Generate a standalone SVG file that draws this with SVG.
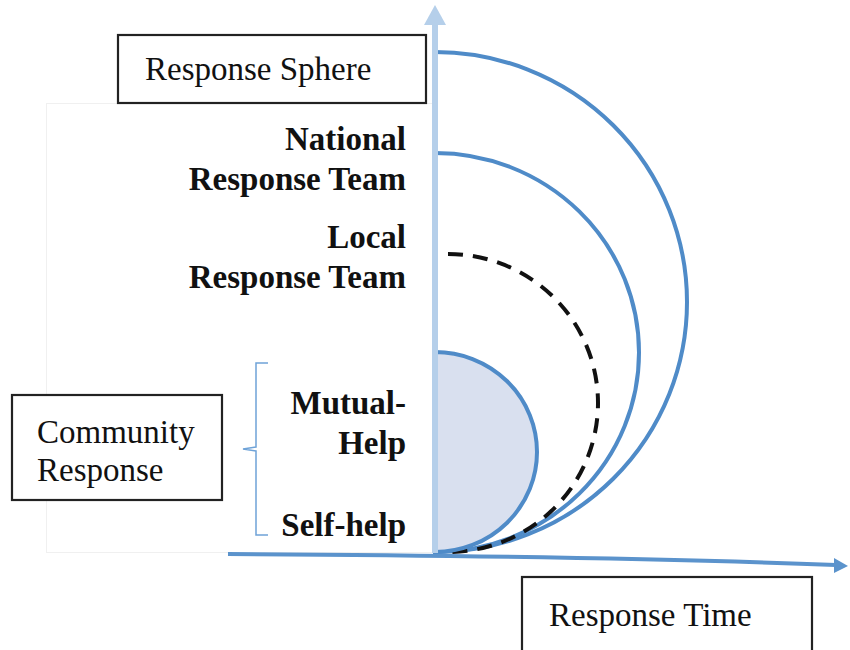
<svg xmlns="http://www.w3.org/2000/svg" width="850" height="650" viewBox="0 0 850 650">
  <style>
    .box { fill: #ffffff; stroke: #222222; stroke-width: 2.2; }
    .lbl { font-family: "Liberation Serif", "Times New Roman", serif; font-size: 33px; fill: #111111; }
    .tier { font-family: "Liberation Serif", "Times New Roman", serif; font-size: 33px; font-weight: bold; fill: #111111; text-anchor: end; }
    .ring { fill: none; stroke: #4f8bc8; stroke-width: 4; }
  </style>
  <rect width="850" height="650" fill="#ffffff"/>

  <!-- faint backing panel -->
  <rect x="46.5" y="103.5" width="390" height="449" fill="#ffffff" stroke="#f0f0f0" stroke-width="1"/>

  <g id="connectors">
    <!-- response sphere rings -->
    <path class="ring" d="M435,52 A252,250 0 0 1 435,552"/>
    <path class="ring" d="M435,153 A204,199.5 0 0 1 435,552"/>
    <path d="M448,254 A150,149 0 0 1 448,552" fill="none" stroke="#111111" stroke-width="4" stroke-dasharray="15,10"/>
    <path d="M435,352 A102,100 0 0 1 435,552 Z" fill="#d9e0ef" stroke="#4f8bc8" stroke-width="4"/>
    <!-- vertical axis -->
    <line x1="435" y1="553" x2="435" y2="22" stroke="#b5cfea" stroke-width="6"/>
    <polygon points="435,5 424,25 446,25" fill="#b5cfea"/>
    <!-- horizontal axis -->
    <path d="M228,554 Q600,556 836,565" fill="none" stroke="#5b93cc" stroke-width="4"/>
    <polygon points="848,566 834,558 834,573" fill="#5b93cc"/>
    <!-- community bracket -->
    <path d="M268,363 L256,363 L256,447 L243,449 L256,451 L256,535 L268,535" fill="none" stroke="#6fa3d8" stroke-width="1.5"/>
  </g>

  <g id="response-sphere">
    <rect class="box" x="118" y="35" width="308" height="68"/>
    <text class="lbl" x="145" y="80">Response Sphere</text>
  </g>

  <g id="national">
    <text class="tier" x="406" y="150">National</text>
    <text class="tier" x="406" y="190">Response Team</text>
  </g>

  <g id="local">
    <text class="tier" x="406" y="248">Local</text>
    <text class="tier" x="406" y="288">Response Team</text>
  </g>

  <g id="mutual-help">
    <text class="tier" x="406" y="414">Mutual-</text>
    <text class="tier" x="406" y="454">Help</text>
  </g>

  <g id="self-help">
    <text class="tier" x="406" y="536">Self-help</text>
  </g>

  <g id="community-response">
    <rect class="box" x="12" y="395" width="210" height="105"/>
    <text class="lbl" x="37" y="443">Community</text>
    <text class="lbl" x="37" y="481">Response</text>
  </g>

  <g id="response-time">
    <rect class="box" x="522" y="577" width="290" height="80"/>
    <text class="lbl" x="549" y="626">Response Time</text>
  </g>
</svg>
